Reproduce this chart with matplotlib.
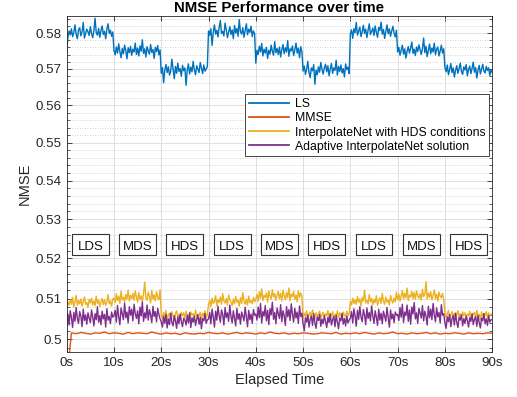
import numpy as np
import matplotlib
matplotlib.use("Agg")
import matplotlib.pyplot as plt
from matplotlib.ticker import FixedLocator, FixedFormatter, NullFormatter
from matplotlib.patches import Rectangle
import matplotlib.transforms as mtransforms

plt.rcParams['font.family'] = ['Liberation Sans', 'DejaVu Sans']

# ---- data: NMSE values, stored as (NMSE - 0.5) in units of 1e-4, sampled every 0.25 s ----
ls_vals = [
    745, 788, 806, 795, 812, 790, 801, 823, 797, 784, 809, 815, 792, 803, 830, 786, 798, 811, 804, 793,
    818, 799, 787, 806, 842, 801, 794, 813, 788, 807, 820, 796, 805, 784, 811, 826, 799, 808, 791, 803,
    752, 739, 761, 744, 770, 748, 731, 757, 742, 766, 751, 728, 759, 745, 763, 738, 755, 747, 772, 740,
    758, 736, 764, 749, 781, 743, 756, 733, 762, 750, 741, 768, 746, 754, 729, 760, 748, 765, 739, 753,
    688, 704, 662, 697, 712, 690, 706, 683, 694, 727, 699, 673, 707, 688, 716, 693, 701, 680, 710, 695,
    703, 655, 698, 714, 686, 705, 692, 721, 697, 684, 709, 699, 690, 718, 702, 687, 711, 694, 700, 706,
    806, 794, 812, 765, 801, 823, 797, 808, 789, 816, 835, 799, 805, 792, 828, 810, 787, 803, 818, 796,
    809, 784, 821, 800, 813, 791, 838, 804, 797, 815, 788, 807, 826, 795, 811, 802, 819, 790, 806, 798,
    716, 752, 740, 763, 747, 771, 736, 755, 744, 760, 729, 752, 741, 766, 749, 738, 776, 745, 757, 740,
    761, 733, 754, 768, 742, 759, 747, 779, 735, 756, 750, 764, 737, 753, 772, 744, 758, 731, 762, 748,
    694, 708, 685, 699, 721, 690, 676, 703, 695, 712, 658, 697, 684, 706, 691, 718, 699, 686, 704, 713,
    692, 709, 681, 700, 715, 688, 703, 696, 724, 683, 707, 693, 711, 689, 701, 678, 714, 698, 705, 687,
    798, 809, 785, 812, 801, 830, 794, 806, 817, 790, 803, 822, 799, 811, 787, 808, 826, 796, 805, 814,
    793, 820, 802, 788, 816, 807, 831, 797, 810, 785, 804, 823, 798, 812, 791, 806, 819, 800, 789, 808,
    747, 760, 738, 752, 766, 741, 756, 730, 749, 762, 744, 758, 775, 743, 755, 737, 761, 748, 767, 753,
    740, 757, 786, 745, 763, 734, 751, 769, 742, 758, 747, 772, 739, 755, 761, 736, 750, 766, 744, 756,
    705, 692, 711, 684, 698, 715, 690, 703, 678, 696, 709, 688, 701, 716, 693, 685, 706, 697, 712, 681,
    699, 708, 687, 702, 719, 691, 704, 675, 697, 710, 686, 700, 713, 694, 689, 707, 696, 703, 682, 698,
    690]

# MMSE sampled every 1 s
mmse_vals = [
    -100, 16, 14, 17, 15, 13, 16, 15, 18, 14, 16,
    15, 13, 17, 14, 16, 15, 14, 18, 15, 13,
    16, 14, 15, 12, 16, 14, 13, 15, 14, 17,
    15, 14, 16, 13, 15, 17, 14, 16, 15, 13,
    16, 14, 18, 15, 14, 16, 13, 15, 14, 16,
    15, 13, 14, 16, 15, 14, 17, 13, 15, 14,
    16, 14, 17, 15, 13, 16, 14, 15, 18, 14,
    15, 13, 16, 14, 15, 17, 14, 16, 13, 15,
    14, 16, 15, 13, 16, 14, 15, 14, 16, 15]

hds_net_vals = [
    80, 92, 84, 97, 86, 103, 79, 91, 108, 83, 95, 87, 99, 81, 93, 104, 86, 90, 78, 98,
    89, 101, 84, 94, 82, 106, 88, 96, 80, 92, 100, 85, 97, 83, 91, 110, 87, 94, 81, 99,
    101, 90, 112, 95, 106, 88, 118, 97, 103, 92, 110, 99, 121, 94, 108, 100, 113, 96, 119, 104,
    91, 115, 98, 107, 93, 111, 141, 102, 96, 116, 105, 89, 120, 99, 109, 94, 117, 103, 97, 122,
    62, 50, 66, 55, 71, 48, 59, 64, 53, 68, 57, 45, 63, 70, 54, 61, 49, 66, 58, 65,
    52, 69, 56, 60, 47, 67, 59, 63, 51, 72, 55, 62, 58, 66, 49, 64, 57, 70, 53, 61,
    85, 96, 80, 101, 88, 93, 107, 82, 98, 90, 104, 86, 112, 94, 89, 100, 84, 109, 97, 92,
    83, 99, 87, 105, 91, 96, 81, 102, 88, 115, 93, 86, 98, 84, 106, 90, 95, 87, 103, 92,
    98, 110, 93, 117, 101, 124, 95, 108, 103, 114, 91, 119, 106, 99, 122, 104, 112, 96, 109, 118,
    100, 113, 94, 121, 107, 97, 115, 102, 126, 95, 111, 105, 118, 98, 109, 92, 120, 103, 114, 107,
    52, 64, 56, 70, 48, 61, 67, 54, 72, 59, 50, 65, 57, 62, 69, 53, 60, 66, 55, 63,
    58, 71, 51, 64, 57, 68, 49, 62, 56, 70, 54, 65, 59, 52, 67, 60, 55, 69, 58, 63,
    93, 84, 101, 88, 97, 86, 105, 91, 99, 82, 103, 94, 121, 89, 96, 87, 110, 92, 100, 85,
    98, 90, 107, 83, 95, 102, 88, 113, 93, 86, 104, 91, 97, 84, 108, 95, 89, 101, 92, 116,
    97, 111, 94, 106, 120, 99, 113, 102, 126, 95, 109, 104, 118, 100, 115, 98, 119, 107, 101, 112,
    96, 123, 105, 110, 142, 99, 114, 103, 117, 97, 108, 121, 100, 111, 94, 116, 106, 102, 113, 98,
    66, 54, 62, 71, 51, 59, 68, 56, 64, 49, 61, 70, 55, 63, 52, 67, 58, 65, 53, 62,
    57, 69, 50, 64, 60, 66, 54, 71, 58, 61, 48, 67, 56, 63, 59, 68, 52, 65, 57, 62,
    60]

adaptive_vals = [
    45, 62, 35, 70, 53, 29, 66, 44, 78, 51, 39, 68, 57, 31, 74, 46, 60, 37, 65, 52,
    41, 72, 55, 33, 63, 48, 80, 42, 58, 36, 69, 50, 61, 30, 75, 47, 56, 38, 67, 54,
    58, 71, 42, 83, 55, 36, 77, 62, 48, 89, 53, 67, 40, 80, 59, 74, 45, 86, 63, 51,
    70, 38, 79, 57, 92, 44, 65, 52, 84, 47, 73, 60, 41, 81, 56, 68, 43, 76, 61, 50,
    43, 30, 56, 39, 61, 28, 50, 36, 64, 41, 33, 58, 46, 27, 55, 38, 62, 44, 31, 52,
    47, 35, 59, 40, 65, 29, 53, 42, 57, 34, 49, 60, 37, 54, 26, 51, 45, 63, 39, 48,
    50, 66, 38, 74, 55, 30, 69, 47, 81, 58, 42, 72, 61, 35, 78, 53, 65, 44, 84, 56,
    40, 70, 52, 33, 76, 49, 63, 37, 67, 57, 45, 79, 54, 31, 71, 48, 62, 39, 73, 59,
    62, 47, 79, 53, 88, 40, 68, 57, 83, 45, 71, 36, 75, 60, 91, 49, 66, 38, 77, 63,
    51, 85, 43, 70, 58, 34, 80, 55, 73, 46, 87, 61, 42, 76, 52, 67, 39, 82, 56, 64,
    38, 21, 53, 42, 60, 30, 49, 57, 34, 63, 40, 27, 55, 46, 61, 32, 50, 38, 58, 44,
    29, 54, 41, 62, 35, 48, 56, 31, 59, 43, 26, 52, 45, 64, 37, 51, 33, 57, 40, 47,
    52, 68, 40, 75, 57, 32, 71, 49, 80, 55, 43, 73, 60, 36, 77, 51, 66, 45, 82, 58,
    39, 70, 54, 34, 74, 47, 64, 38, 69, 56, 44, 78, 53, 30, 72, 50, 62, 41, 67, 59,
    61, 46, 78, 54, 86, 41, 67, 58, 84, 44, 72, 37, 79, 62, 90, 50, 65, 39, 76, 64,
    52, 83, 45, 69, 57, 35, 81, 53, 74, 48, 88, 60, 43, 77, 55, 66, 40, 85, 59, 63,
    40, 27, 55, 43, 61, 31, 50, 58, 35, 64, 42, 29, 54, 47, 60, 33, 51, 39, 57, 46,
    30, 53, 44, 62, 36, 49, 56, 32, 59, 41, 28, 52, 45, 63, 38, 50, 34, 58, 42, 48,
    48]

series_names = ["LS", "MMSE", "InterpolateNet with HDS conditions", "Adaptive InterpolateNet solution"]
series_colors = ["#0072BD", "#D95319", "#EDB120", "#7E2F8E"]
segment_labels = ["LDS", "MDS", "HDS", "LDS", "MDS", "HDS", "LDS", "MDS", "HDS"]
x_tick_values = [0, 10, 20, 30, 40, 50, 60, 70, 80, 90]
x_tick_labels = ["0s", "10s", "20s", "30s", "40s", "50s", "60s", "70s", "80s", "90s"]
y_tick_values = [0.50, 0.51, 0.52, 0.53, 0.54, 0.55, 0.56, 0.57, 0.58]
y_tick_labels = ["0.5", "0.51", "0.52", "0.53", "0.54", "0.55", "0.56", "0.57", "0.58"]

T_END = 90.0

fig = plt.figure(figsize=(5.17, 3.97), dpi=100)
ax = fig.add_axes([0.129, 0.1126, 0.823, 0.8479])

all_series = [ls_vals, mmse_vals, hds_net_vals, adaptive_vals]
for vals, name, col in zip(all_series, series_names, series_colors):
    y = 0.5 + np.array(vals, dtype=float) / 1e4
    t = np.linspace(0, T_END, len(y))
    ax.plot(t, y, color=col, lw=1.0, label=name)

ax.set_yscale('log')
ax.set_xlim(0, T_END)
ax.set_ylim(0.4969, 0.5849)

ax.xaxis.set_major_locator(FixedLocator(x_tick_values))
ax.xaxis.set_major_formatter(FixedFormatter(x_tick_labels))
ax.yaxis.set_major_locator(FixedLocator(y_tick_values))
ax.yaxis.set_major_formatter(FixedFormatter(y_tick_labels))
minor_y = [round(0.496 + 0.002 * k, 3) for k in range(46)]
minor_y = [v for v in minor_y if round(v * 100, 6) != round(v * 100)]
ax.yaxis.set_minor_locator(FixedLocator(minor_y))
ax.yaxis.set_minor_formatter(NullFormatter())
ax.xaxis.set_minor_locator(FixedLocator([]))

ax.grid(True, which='major', color='#dedede', lw=0.7)
ax.grid(True, which='minor', axis='y', color='#c4c4c4', lw=0.6, ls=(0, (1, 2)))
ax.set_axisbelow(True)

ax.tick_params(which='both', direction='in', top=True, right=True, labelsize=9.6, colors='#262626')
ax.tick_params(which='major', length=3.5, width=0.6)
ax.tick_params(which='minor', length=2, width=0.5)
for sp in ax.spines.values():
    sp.set_linewidth(0.6)
    sp.set_color('#262626')

ax.set_title("NMSE Performance over time", fontsize=10.8, fontweight='bold', pad=3)
ax.set_xlabel("Elapsed Time", fontsize=10.5, color='#262626', labelpad=3)
ax.set_ylabel("NMSE", fontsize=10.5, color='#262626', labelpad=3)

# segment label boxes
trans = mtransforms.blended_transform_factory(ax.transData, ax.transAxes)
seg_len = T_END / len(segment_labels)
for i, lab in enumerate(segment_labels):
    c = seg_len * (i + 0.5)
    ax.add_patch(Rectangle((c - 3.9, 0.289), 7.8, 0.0625, transform=trans,
                           facecolor='white', edgecolor='#333333', lw=0.8, zorder=5))
    ax.text(c, 0.314, lab, transform=trans, ha='center', va='center',
            fontsize=9.5, color='#111111', zorder=6)

leg = ax.legend(loc='upper left', bbox_to_anchor=(0.419, 0.766), fontsize=8.8,
                frameon=True, fancybox=False, edgecolor='#262626', framealpha=1,
                handlelength=3.3, handletextpad=0.5, labelspacing=0.18,
                borderpad=0.3, borderaxespad=0)
leg.get_frame().set_linewidth(0.6)
for line in leg.get_lines():
    line.set_linewidth(1.3)

fig.savefig("out.png", dpi=100)
